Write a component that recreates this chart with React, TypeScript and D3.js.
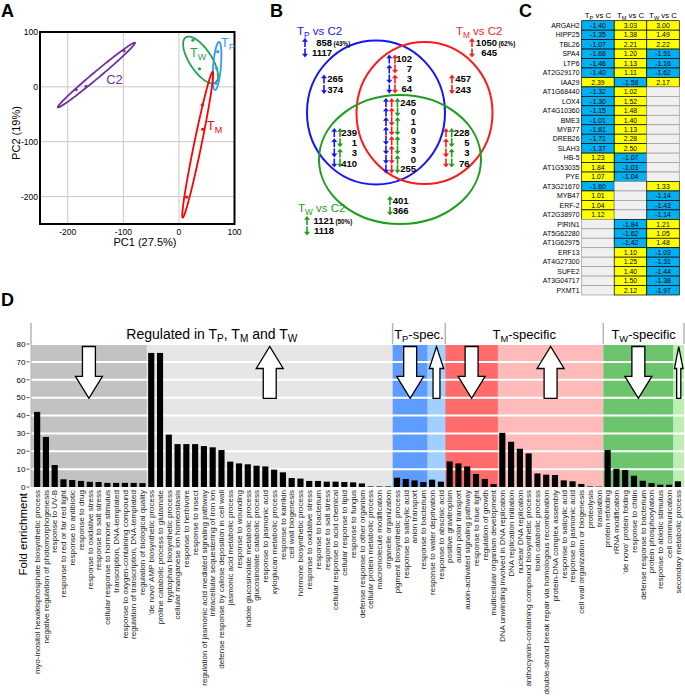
import * as d3 from 'd3';

// ---------- A: PCA ----------
const pcaGroups = ['C2', 'TW', 'TP', 'TM'];
const pcaColors = ['#7030a0', '#1fa64b', '#3399ee', '#ff0000'];
const ellipseCx = [-148.5, 38.9, 68.6, 33.8];
const ellipseCy = [21.5, 49, 38.1, -105.4];
const ellipseA = [91, 49, 43.9, 135.7];
const ellipseB = [6, 20, 7, 6.7];
const ellipseAngle = [40.3, -57.3, 85.3, 78.5];
const pcaPointsX = [[-185, -167, -99], [25, 37], [69.8, 68, 66.2], [42.1, 42.8, 14]];
const pcaPointsY = [[-5, 1, 66], [85, 33], [64.2, 33.9, 6.6], [-33, -77.3, -201]];
const pcaTicks = [-200, -100, 0, 100];

// ---------- B: Venn counts ----------
const totalsUp = [858, 1050, 1121];
const totalsDown = [1117, 645, 1118];
const totalsPct = ['(43%)', '(62%)', '(50%)'];
const onlyTP = [265, 374];
const onlyTM = [457, 243];
const onlyTW = [401, 366];
const tpTM = [102, 7, 3, 64];
const tpTW = [239, 1, 3, 410];
const tmTW = [228, 5, 3, 76];
const tpTMTW = [245, 0, 1, 0, 3, 3, 0, 255];

// ---------- C: fold-change table ----------
const genes = ['ARGAH2', 'HIPP25', 'TBL26', 'SPA4', 'LTP6', 'AT2G29170', 'IAA29', 'AT1G68440', 'LOX4', 'AT4G10360',
  'BME3', 'MYB77', 'DREB26', 'SLAH3', 'HB-5', 'AT1G53035', 'PYE', 'AT3G21670', 'MYB47', 'ERF-2', 'AT2G38970',
  'PIRIN1', 'AT5G62280', 'AT1G62975', 'ERF13', 'AT4G27300', 'SUFE2', 'AT3G04717', 'PXMT1'];
const fcTP = [-1.40, -1.35, -1.07, -1.68, -1.46, -1.40, 2.39, -1.32, -1.30, -1.15, -1.01, -1.81, -1.71, -1.37, 1.23, 1.84, 1.07,
  -1.60, 1.01, 1.04, 1.12, null, null, null, null, null, null, null, null];
const fcTM = [3.03, 1.38, 2.21, 1.20, 1.13, 1.11, -1.58, 1.02, 1.52, 1.48, 1.40, 1.13, 2.28, 2.50, -1.07, -1.03, -1.04,
  null, null, null, null, -1.84, -1.62, -1.42, 1.10, 1.25, 1.40, 1.50, 2.12];
const fcTW = [3.00, 1.49, 2.22, -1.51, -1.16, -1.62, 2.17, null, null, null, null, null, null, null, null, null, null,
  1.33, -1.14, -1.43, -1.14, 1.21, 1.05, 1.48, -1.03, -1.31, -1.44, -1.38, -1.97];
const comparisons = ['P', 'M', 'W'];

// ---------- D: GO enrichment ----------
const goTerms = [
  'myo-inositol hexakisphosphate biosynthetic process', 'negative regulation of photomorphogenesis', 'response to UV-B',
  'response to red or far red light', 'response to antibiotic', 'response to drug', 'response to oxidative stress',
  'response to salt stress', 'cellular response to hormone stimulus', 'transcription, DNA-templated',
  'response to oxygen-containing compound', 'regulation of transcription, DNA-templated', 'regulation of biological quality',
  "'de novo' AMP biosynthetic process", 'proline catabolic process to glutamate', 'tryptophan biosynthetic process',
  'cellular manganese ion homeostasis', 'response to herbivore', 'response to insect',
  'regulation of jasmonic acid mediated signaling pathway', 'intracellular sequestering of iron ion',
  'defense response by callose deposition in cell wall', 'jasmonic acid metabolic process', 'response to wounding',
  'indole glucosinolate metabolic process', 'glucosinolate catabolic process', 'response to jasmonic acid',
  'xyloglucan metabolic process', 'response to karrikin', 'cell wall biogenesis', 'hormone biosynthetic process',
  'response to oxidative stress', 'response to bacterium', 'response to salt stress', 'cellular response to acid chemical',
  'cellular response to lipid', 'response to fungus', 'defense response to other organism',
  'cellular protein metabolic process', 'macromolecule modification', 'organelle organization',
  'pigment biosynthetic process', 'response to salicylic acid', 'anion transport', 'response to bacterium',
  'response to water deprivation', 'response to abscisic acid',
  'positive gravitropism', 'auxin polar transport', 'auxin-activated signaling pathway', 'response to blue light',
  'regulation of growth', 'multicellular organism development',
  'DNA unwinding involved in DNA replication', 'DNA replication initiation', 'nuclear DNA replication',
  'anthocyanin-containing compound biosynthetic process', 'toxin catabolic process',
  'double-strand break repair via homologous recombination', 'protein-DNA complex assembly', 'response to salicylic acid',
  'response to jasmonic acid', 'cell wall organization or biogenesis', 'proteolysis', 'translation',
  'protein refolding', 'rRNA modification', "'de novo' protein folding", 'response to chitin',
  'defense response to bacterium', 'protein phosphorylation', 'response to abiotic stimulus', 'cell communication',
  'secondary metabolic process',
];
const foldEnrichment = [
  42, 28, 12.3, 4.3, 3.9, 3.4, 2.9, 2.8, 2.3, 2.3, 2.3, 2.3, 2.2,
  75, 75, 29.3, 24, 24, 24, 22.9, 22.2, 20.7, 14.2, 13.2, 12.7, 11.9, 11.5, 9.7, 8.2, 5, 4.7, 3.4, 3.4, 3, 3, 2.8, 2.6, 2,
  0.3, 0.3, 0.3,
  5.2, 4.5, 3.7, 2.8,
  4.1, 3,
  14.3, 13.2, 11.5, 7.3, 4.5, 1.7,
  30.3, 25.3, 21.4, 18.8, 7.6, 6.9, 6.7, 3.7, 3.2, 1.7, 0.3, 0.2,
  20.7, 10.2, 9.5, 6.3, 3.5, 2.2, 1.3, 1.3,
  3.2,
];
const subsetSizes = [13, 28, 4, 2, 6, 12, 8, 1];
const subsetDir = ['down', 'up', 'down', 'up', 'down', 'up', 'down', 'up'];
const subsetFill = ['#c2c2c2', '#e6e6e6', '#5e9cff', '#a0d0ff', '#ff6a6a', '#ffbaba', '#6cc46c', '#bcf0b2'];
const yTicksD = [0, 10, 20, 30, 40, 50, 60, 70, 80];

const FONT = 'Liberation Sans, Arial, sans-serif';

function SubText({ x, y, base, sub, rest, size, fill, anchor = 'start', weight = 'normal' }: any) {
  const d = size * 0.28;
  return (
    <text x={x} y={y} fontSize={size} fill={fill} textAnchor={anchor} fontWeight={weight}>
      <tspan>{base}</tspan>
      <tspan fontSize={size * 0.72} dy={d}>{sub}</tspan>
      <tspan dy={-d}>{rest}</tspan>
    </text>
  );
}

function PanelA() {
  const x = d3.scaleLinear().domain([-250, 100]).range([40, 234.5]);
  const y = d3.scaleLinear().domain([-250, 100]).range([224, 32]);
  const ts = d3.range(0, Math.PI * 2, 0.04);
  const line = d3.line<[number, number]>().x((d) => x(d[0])).y((d) => y(d[1])).curve(d3.curveLinearClosed);
  return (
    <g>
      {pcaTicks.slice(0, 3).map((t) => (
        <line key={'gx' + t} x1={x(t)} x2={x(t)} y1={y(100)} y2={y(-250)} stroke="#c8c8c8" strokeWidth={1} />
      ))}
      {pcaTicks.slice(0, 3).map((t) => (
        <line key={'gy' + t} x1={x(-250)} x2={x(100)} y1={y(t)} y2={y(t)} stroke="#c8c8c8" strokeWidth={1} />
      ))}
      {pcaGroups.map((g, i) => {
        const th = (ellipseAngle[i] * Math.PI) / 180;
        const pts = ts.map((t) => [
          ellipseCx[i] + ellipseA[i] * Math.cos(t) * Math.cos(th) - ellipseB[i] * Math.sin(t) * Math.sin(th),
          ellipseCy[i] + ellipseA[i] * Math.cos(t) * Math.sin(th) + ellipseB[i] * Math.sin(t) * Math.cos(th),
        ]) as [number, number][];
        return (
          <g key={g}>
            <path d={line(pts) || ''} fill="none" stroke={pcaColors[i]} strokeWidth={1.8} />
            {pcaPointsX[i].map((px, j) => (
              <circle key={j} cx={x(px)} cy={y(pcaPointsY[i][j])} r={1.6} fill={pcaColors[i]} />
            ))}
          </g>
        );
      })}
      <rect x={x(-250)} y={y(100)} width={x(100) - x(-250)} height={y(-250) - y(100)} fill="none" stroke="#000" strokeWidth={2} />
      <text x={x(-131)} y={y(5)} fontSize={13} fill={pcaColors[0]}>C2</text>
      <SubText x={x(20)} y={y(54.5)} base="T" sub="W" rest="" size={12.5} fill={pcaColors[1]} />
      <SubText x={x(75.8)} y={y(72.7)} base="T" sub="P" rest="" size={12.5} fill={pcaColors[2]} />
      <SubText x={x(50.6)} y={y(-78.6)} base="T" sub="M" rest="" size={12.5} fill={pcaColors[3]} />
      {pcaTicks.map((t) => (
        <text key={'tx' + t} x={x(t)} y={235} fontSize={8.5} textAnchor="middle">{t}</text>
      ))}
      {pcaTicks.map((t) => (
        <text key={'ty' + t} x={38} y={y(t) + 3} fontSize={8.5} textAnchor="end">{t}</text>
      ))}
      <text x={145} y={246} fontSize={11} textAnchor="middle">PC1 (27.5%)</text>
      <text transform="translate(20,133) rotate(-90)" fontSize={11} textAnchor="middle">PC2 (19%)</text>
    </g>
  );
}

function VArrow({ x, y, up, color }: { x: number; y: number; up: boolean; color: string }) {
  const s = up ? -1 : 1;
  const h = 4.5;
  return (
    <g>
      <line x1={x} x2={x} y1={y - s * h} y2={y + s * 1.5} stroke={color} strokeWidth={1.6} />
      <path d={`M${x},${y + s * h} L${x - 3},${y + s * (h - 3.8)} L${x + 3},${y + s * (h - 3.8)} Z`} fill={color} />
    </g>
  );
}

const vennColors = ['#1414ff', '#ff1a1a', '#1c9e1c'];

function VennBlock({ values, sets, arrowX, numX, y0, dy }: any) {
  const k = sets.length;
  return (
    <g>
      {values.map((v: number, i: number) => (
        <g key={i}>
          {sets.map((s: number, j: number) => (
            <VArrow key={j} x={arrowX[j]} y={y0 + i * dy} up={((i >> (k - 1 - j)) & 1) === 0} color={vennColors[s]} />
          ))}
          <text x={numX} y={y0 + i * dy + 3.4} fontSize={9.5} fontWeight="bold" textAnchor="end">{v}</text>
        </g>
      ))}
    </g>
  );
}

function PanelB() {
  return (
    <g>
      <ellipse cx={376} cy={112.5} rx={69} ry={72} fill="none" stroke={vennColors[0]} strokeWidth={2} />
      <ellipse cx={424.5} cy={113} rx={68} ry={71} fill="none" stroke={vennColors[1]} strokeWidth={2} />
      <ellipse cx={400} cy={159.5} rx={81} ry={64.5} fill="none" stroke={vennColors[2]} strokeWidth={2} />

      <SubText x={297} y={35} base="T" sub="P" rest=" vs C2" size={11.5} fill={vennColors[0]} />
      <SubText x={456} y={35} base="T" sub="M" rest=" vs C2" size={11.5} fill={vennColors[1]} />
      <SubText x={298} y={212} base="T" sub="W" rest=" vs C2" size={11.5} fill={vennColors[2]} />

      {[
        { ax: 305, nx: 332, y: 42.5 },
        { ax: 472, nx: 497, y: 42.5 },
        { ax: 307, nx: 334, y: 220.5 },
      ].map((p, i) => (
        <g key={i}>
          <VArrow x={p.ax} y={p.y} up={true} color={vennColors[i]} />
          <text x={p.nx} y={p.y + 3.4} fontSize={9.5} fontWeight="bold" textAnchor="end">{totalsUp[i]}</text>
          <text x={p.nx + 1.5} y={p.y + 3} fontSize={6.3} fontWeight="bold">{totalsPct[i]}</text>
          <VArrow x={p.ax} y={p.y + 10.5} up={false} color={vennColors[i]} />
          <text x={p.nx} y={p.y + 13.9} fontSize={9.5} fontWeight="bold" textAnchor="end">{totalsDown[i]}</text>
        </g>
      ))}

      <VennBlock values={onlyTP} sets={[0]} arrowX={[324]} numX={343} y0={79} dy={10.5} />
      <VennBlock values={onlyTM} sets={[1]} arrowX={[452]} numX={471} y0={79} dy={10.5} />
      <VennBlock values={onlyTW} sets={[2]} arrowX={[390]} numX={408.5} y0={200.5} dy={10.5} />
      <VennBlock values={tpTM} sets={[0, 1]} arrowX={[389.3, 395]} numX={412} y0={59} dy={10} />
      <VennBlock values={tpTW} sets={[0, 2]} arrowX={[334.3, 340]} numX={357} y0={132.5} dy={10.2} />
      <VennBlock values={tmTW} sets={[1, 2]} arrowX={[446, 451.7]} numX={469.5} y0={132.5} dy={10.2} />
      <VennBlock values={tpTMTW} sets={[0, 1, 2]} arrowX={[386, 391.7, 397.5]} numX={416} y0={102.5} dy={9.5} />
    </g>
  );
}

function PanelC() {
  const rows = d3.scaleBand<string>().domain(genes).range([20.7, 295]);
  const cols = d3.scaleBand<string>().domain(comparisons).range([581.7, 679.3]);
  const series = [fcTP, fcTM, fcTW];
  return (
    <g>
      {comparisons.map((c) => (
        <SubText key={c} x={(cols(c) as number) + cols.bandwidth() / 2} y={17.5} base="T" sub={c} rest=" vs C"
          size={7.8} fill="#000" anchor="middle" />
      ))}
      {genes.map((g, i) => (
        <g key={g}>
          <text x={579.5} y={(rows(g) as number) + rows.bandwidth() / 2 + 2.5} fontSize={6.9} textAnchor="end">{g}</text>
          {comparisons.map((c, j) => {
            const v = series[j][i];
            const fill = v == null ? '#f0f0f0' : v > 0 ? '#ffff00' : '#00b0f0';
            return (
              <g key={c}>
                <rect x={cols(c)} y={rows(g)} width={cols.bandwidth()} height={rows.bandwidth()} fill={fill}
                  stroke={v == null ? '#9a9a9a' : '#000'} strokeWidth={0.7} />
                {v != null && (
                  <text x={(cols(c) as number) + cols.bandwidth() / 2} y={(rows(g) as number) + rows.bandwidth() / 2 + 2.5}
                    fontSize={6.9} textAnchor="middle">{v.toFixed(2)}</text>
                )}
              </g>
            );
          })}
        </g>
      ))}
    </g>
  );
}

function PanelD() {
  const left = 31;
  const right = 684;
  const x = d3.scaleBand<number>().domain(d3.range(goTerms.length)).range([left, right]).paddingInner(0.3).paddingOuter(0.35);
  const y = d3.scaleLinear().domain([0, 80]).range([487, 344]);
  const step = x.step();
  const starts = d3.cumsum([0, ...subsetSizes]);
  const boundary = (idx: number) =>
    idx === 0 ? left : idx === goTerms.length ? right : (x(idx) as number) - (step * 0.3) / 2;
  const headerTop = 323;
  const sections = [
    { parts: true, from: 0, to: 2 },
    { label: ['T', 'P', '-spec.'], from: 2, to: 4 },
    { label: ['T', 'M', '-specific'], from: 4, to: 6 },
    { label: ['T', 'W', '-specific'], from: 6, to: 8 },
  ];
  const arrowTop = y(78.6);
  const arrowBottom = y(49.6);
  return (
    <g>
      {subsetSizes.map((n, i) => (
        <rect key={i} x={boundary(starts[i])} y={y(80)} width={boundary(starts[i + 1]) - boundary(starts[i])}
          height={y(0) - y(80)} fill={subsetFill[i]} />
      ))}
      {yTicksD.slice(1).map((t) => (
        <line key={t} x1={left} x2={right} y1={y(t)} y2={y(t)} stroke="#fff" strokeWidth={2} />
      ))}
      {subsetSizes.map((n, i) => {
        const x0 = boundary(starts[i]);
        const x1 = boundary(starts[i + 1]);
        const cx = (x0 + x1) / 2;
        const hw = Math.min(27, (x1 - x0) * 0.82) / 2;
        const sw = hw * 0.48;
        const hl = 22;
        const pts =
          subsetDir[i] === 'down'
            ? [[cx - sw, arrowTop], [cx + sw, arrowTop], [cx + sw, arrowBottom - hl], [cx + hw, arrowBottom - hl],
              [cx, arrowBottom], [cx - hw, arrowBottom - hl], [cx - sw, arrowBottom - hl]]
            : [[cx - sw, arrowBottom], [cx + sw, arrowBottom], [cx + sw, arrowTop + hl], [cx + hw, arrowTop + hl],
              [cx, arrowTop], [cx - hw, arrowTop + hl], [cx - sw, arrowTop + hl]];
        return <polygon key={i} points={pts.map((p) => p.join(',')).join(' ')} fill="#fff" stroke="#000" strokeWidth={1.3} />;
      })}
      {foldEnrichment.map((v, i) => (
        <rect key={i} x={x(i)} y={y(v)} width={x.bandwidth()} height={y(0) - y(v)} fill="#000" />
      ))}
      {/* dividers */}
      {starts.map((s, i) => (
        <line key={'d' + i} x1={boundary(s)} x2={boundary(s)} y1={y(0)} y2={698} stroke="#b4b4b4" strokeWidth={1.5} />
      ))}
      {[0, 2, 4, 6, 8].map((si) => (
        <line key={'h' + si} x1={boundary(starts[si])} x2={boundary(starts[si])} y1={headerTop} y2={y(80)}
          stroke="#b4b4b4" strokeWidth={1.5} />
      ))}
      <line x1={left} x2={left} y1={y(80)} y2={y(0)} stroke="#b4b4b4" strokeWidth={1} />
      {sections.map((s, i) => {
        const cx = (boundary(starts[s.from]) + boundary(starts[s.to])) / 2;
        if (s.parts) {
          const fs = 14;
          const d = fs * 0.28;
          return (
            <text key={i} x={cx} y={338.5} fontSize={fs} textAnchor="middle">
              <tspan>Regulated in T</tspan>
              <tspan fontSize={fs * 0.72} dy={d}>P</tspan>
              <tspan dy={-d}>, T</tspan>
              <tspan fontSize={fs * 0.72} dy={d}>M</tspan>
              <tspan dy={-d}> and T</tspan>
              <tspan fontSize={fs * 0.72} dy={d}>W</tspan>
            </text>
          );
        }
        return (
          <SubText key={i} x={cx} y={338.5} base={s.label![0]} sub={s.label![1]} rest={s.label![2]} size={13}
            fill="#000" anchor="middle" />
        );
      })}
      {yTicksD.map((t) => (
        <g key={'yt' + t}>
          <line x1={26.5} x2={29.5} y1={y(t)} y2={y(t)} stroke="#333" strokeWidth={0.8} />
          <text x={25.5} y={y(t) + 2.8} fontSize={8} textAnchor="end">{t}</text>
        </g>
      ))}
      <text transform="translate(27,493) rotate(-90)" fontSize={11.5} textAnchor="end">Fold enrichment</text>
      {goTerms.map((t, i) => (
        <text key={i} transform={`translate(${(x(i) as number) + x.bandwidth() / 2 + 2.8},490) rotate(-90)`}
          fontSize={8} textAnchor="end" fill="#1a1a1a">{t}</text>
      ))}
    </g>
  );
}

export default function App() {
  return (
    <div style={{ position: 'absolute', left: 0, top: 0 }}>
      <svg width={685} height={698} style={{ display: 'block', fontFamily: FONT, background: '#fff' }}>
        <PanelA />
        <PanelB />
        <PanelC />
        <PanelD />
        <text x={1} y={17} fontSize={18} fontWeight="bold">A</text>
        <text x={270} y={17} fontSize={18} fontWeight="bold">B</text>
        <text x={519} y={17} fontSize={18} fontWeight="bold">C</text>
        <text x={1} y={306} fontSize={18} fontWeight="bold">D</text>
      </svg>
    </div>
  );
}
